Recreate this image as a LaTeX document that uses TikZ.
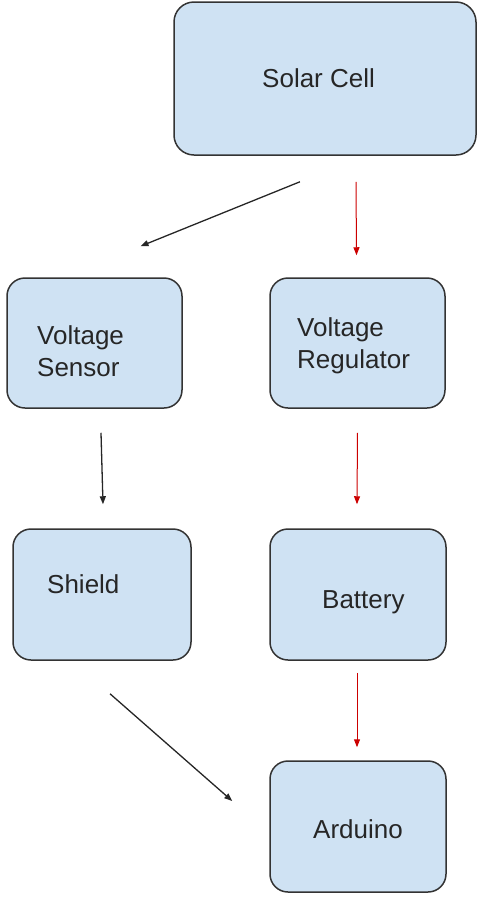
\documentclass[tikz,border=0pt]{standalone}
\usepackage{fontspec}
\setmainfont{Liberation Sans}
\usepackage{tikz}
\usetikzlibrary{arrows.meta, positioning}
\definecolor{boxfill}{HTML}{CFE2F3}
\definecolor{boxline}{HTML}{333333}
\definecolor{powerred}{HTML}{CC0000}

\begin{document}
\begin{tikzpicture}[x=1pt, y=-1pt,
  block/.style={draw=boxline, line width=1.5pt, fill=boxfill, rounded corners=18pt,
                minimum width=176pt, minimum height=131pt, inner sep=0pt},
  txt/.style={font=\fontsize{26}{32}\selectfont, text=black!85, inner sep=0pt, anchor=base west},
  sigarrow/.style={-{Triangle[length=8pt, width=6pt]}, line width=1.3pt, black!85},
  pwrarrow/.style={-{Triangle[length=8pt, width=6pt]}, line width=1pt, powerred}]

  \useasboundingbox (0,0) rectangle (481,898);

  % Blocks
  \node[block, rounded corners=20pt, minimum width=302pt, minimum height=153pt]
        (solar) at (325,78.5) {};
  \node[block, minimum width=175pt, minimum height=130pt] (sensor) at (94.5,343) {};
  \node[block, minimum width=175pt, minimum height=130pt] (reg) at (357.5,343) {};
  \node[block, minimum width=178pt] (shield) at (102,594.5) {};
  \node[block] (battery) at (358,594.5) {};
  \node[block] (arduino) at (358,826.5) {};

  % Labels
  \node[txt] (solar-t) at (262,87) {Solar Cell};
  \node[txt, align=left] (sensor-t) at (37,376) {Voltage\\Sensor};
  \node[txt, align=left] (reg-t) at (297,368) {Voltage\\Regulator};
  \node[txt] (shield-t) at (47,593) {Shield};
  \node[txt] (battery-t) at (322,608) {Battery};
  \node[txt] (arduino-t) at (313,838) {Arduino};

  % Signal path
  \draw[sigarrow] ([shift={(-25,26)}]solar.south) -- ([shift={(46,-31)}]sensor.north);
  \draw[sigarrow] ([shift={(6.5,24)}]sensor.south) -- ([shift={(1,-24)}]shield.north);
  \draw[sigarrow] ([shift={(8,33)}]shield.south) -- ([shift={(-37,-25.5)}]arduino.west);

  % Power path
  \draw[pwrarrow] ([shift={(31,26)}]solar.south) -- ([shift={(-1,-22)}]reg.north);
  \draw[pwrarrow] ([shift={(0,24)}]reg.south) -- ([shift={(-1,-24)}]battery.north);
  \draw[pwrarrow] ([shift={(-1,12)}]battery.south) -- ([shift={(-1,-13)}]arduino.north);

\end{tikzpicture}
\end{document}
